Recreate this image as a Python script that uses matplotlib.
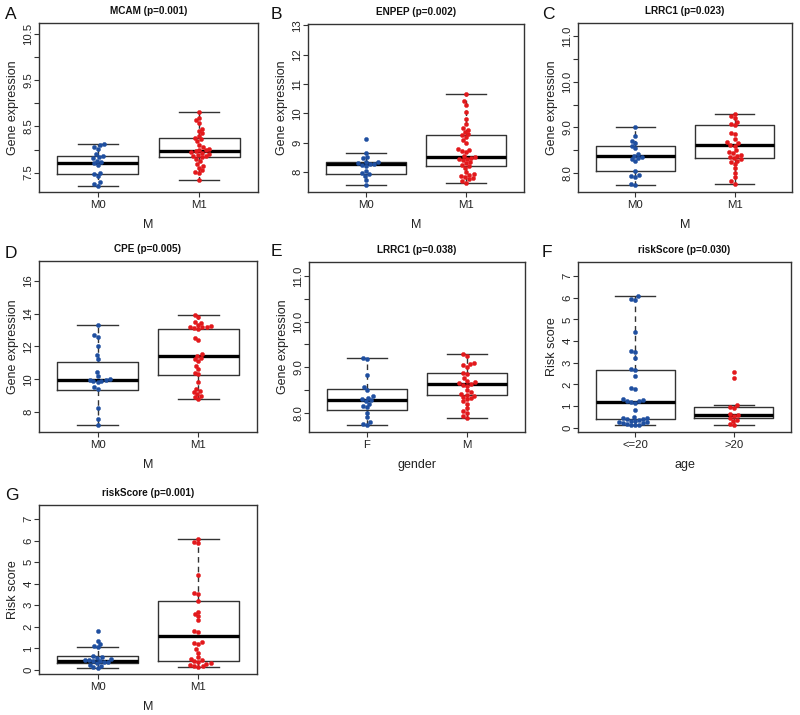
import numpy as np
import matplotlib
matplotlib.use('Agg')
import matplotlib.pyplot as plt

plt.rcParams['font.family'] = ['Liberation Sans', 'DejaVu Sans']

BLUE = '#1f4fa0'
RED = '#e3191c'

# ---------------- data ----------------
# Panel A: MCAM
a_title = 'MCAM (p=0.001)'
a_groups = ['M0', 'M1']
a_pts_g1 = [8.13, 8.10, 8.06, 8.02, 7.90, 7.87, 7.84, 7.81, 7.76, 7.73, 7.70, 7.67,
            7.50, 7.46, 7.42, 7.30, 7.26, 7.22]
a_pts_g2 = [8.82, 8.68, 8.63, 8.58, 8.45, 8.40, 8.35, 8.30, 8.25, 8.22, 8.18, 8.10,
            8.05, 8.02, 8.00, 7.98, 7.96, 7.95, 7.93, 7.91, 7.89, 7.87, 7.85, 7.83,
            7.80, 7.75, 7.68, 7.64, 7.60, 7.55, 7.52, 7.49, 7.35]
a_box_g1 = [7.22, 7.46, 7.71, 7.86, 8.13]   # whislo, q1, median, q3, whishi
a_box_g2 = [7.35, 7.83, 7.96, 8.25, 8.82]

# Panel B: ENPEP
b_title = 'ENPEP (p=0.002)'
b_groups = ['M0', 'M1']
b_pts_g1 = [9.12, 8.64, 8.50, 8.47, 8.36, 8.33, 8.31, 8.29, 8.27, 8.25, 8.20, 8.05,
            7.96, 7.93, 7.86, 7.72, 7.55]
b_pts_g2 = [10.67, 10.42, 10.30, 10.05, 9.82, 9.65, 9.50, 9.45, 9.38, 9.30, 9.25, 9.18,
            9.08, 8.98, 8.80, 8.76, 8.72, 8.68, 8.56, 8.52, 8.49, 8.46, 8.43, 8.40,
            8.35, 8.30, 8.24, 8.20, 8.14, 8.00, 7.93, 7.90, 7.87, 7.84, 7.80, 7.75,
            7.70, 7.64]
b_box_g1 = [7.55, 7.94, 8.28, 8.34, 8.64]
b_box_g2 = [7.64, 8.21, 8.53, 9.26, 10.67]

# Panel C: LRRC1 by M
c_title = 'LRRC1 (p=0.023)'
c_groups = ['M0', 'M1']
c_pts_g1 = [9.01, 8.82, 8.70, 8.65, 8.60, 8.55, 8.42, 8.38, 8.35, 8.33, 8.30, 8.25,
            8.05, 7.96, 7.93, 7.90, 7.76, 7.73]
c_pts_g2 = [9.29, 9.25, 9.20, 9.12, 9.08, 9.05, 8.88, 8.85, 8.75, 8.68, 8.65, 8.62,
            8.60, 8.50, 8.46, 8.43, 8.40, 8.38, 8.35, 8.32, 8.30, 8.27, 8.24, 8.20,
            8.10, 8.00, 7.90, 7.82, 7.76]
c_box_g1 = [7.73, 8.04, 8.37, 8.60, 9.01]
c_box_g2 = [7.76, 8.33, 8.62, 9.05, 9.29]

# Panel D: CPE
d_title = 'CPE (p=0.005)'
d_groups = ['M0', 'M1']
d_pts_g1 = [13.29, 12.70, 12.55, 12.00, 11.50, 11.25, 10.45, 10.20, 10.00, 9.96,
            9.93, 9.90, 9.86, 9.80, 9.55, 9.42, 8.25, 7.60, 7.20]
d_pts_g2 = [13.91, 13.80, 13.50, 13.40, 13.30, 13.25, 13.20, 13.18, 13.15, 13.10,
            13.05, 12.50, 12.40, 11.55, 11.40, 11.30, 11.20, 11.10, 10.80, 10.60,
            10.40, 10.30, 9.85, 9.40, 9.30, 9.20, 9.10, 9.00, 8.90, 8.81]
d_box_g1 = [7.20, 9.36, 9.93, 11.03, 13.29]
d_box_g2 = [8.81, 10.28, 11.40, 13.05, 13.91]

# Panel E: LRRC1 by gender
e_title = 'LRRC1 (p=0.038)'
e_groups = ['F', 'M']
e_pts_g1 = [9.21, 9.18, 8.82, 8.56, 8.50, 8.36, 8.33, 8.30, 8.28, 8.25, 8.20, 8.15,
            8.12, 8.00, 7.90, 7.80, 7.75, 7.73]
e_pts_g2 = [9.29, 9.25, 9.10, 9.07, 9.04, 9.00, 8.88, 8.85, 8.76, 8.70, 8.68, 8.66,
            8.64, 8.62, 8.60, 8.50, 8.45, 8.42, 8.40, 8.38, 8.35, 8.32, 8.30, 8.25,
            8.20, 8.10, 8.05, 8.00, 7.94, 7.89]
e_box_g1 = [7.73, 8.06, 8.29, 8.52, 9.21]
e_box_g2 = [7.89, 8.40, 8.64, 8.88, 9.29]

# Panel F: riskScore by age
f_title = 'riskScore (p=0.030)'
f_groups = ['<=20', '>20']
f_pts_g1 = [6.06, 5.95, 5.90, 4.40, 3.55, 3.50, 3.20, 2.70, 2.68, 2.40, 1.82, 1.78,
            1.32, 1.28, 1.25, 1.22, 1.18, 1.15, 0.80, 0.50, 0.46, 0.43, 0.40, 0.38,
            0.36, 0.33, 0.31, 0.28, 0.25, 0.22, 0.20, 0.17, 0.14, 0.12, 0.11]
f_pts_g2 = [2.55, 2.28, 1.03, 0.95, 0.90, 0.65, 0.60, 0.55, 0.45, 0.35, 0.30, 0.15,
            0.11]
f_box_g1 = [0.11, 0.40, 1.18, 2.68, 6.06]
f_box_g2 = [0.11, 0.43, 0.60, 0.97, 1.03]

# Panel G: riskScore by M
g_title = 'riskScore (p=0.001)'
g_groups = ['M0', 'M1']
g_pts_g1 = [1.82, 1.35, 1.18, 1.12, 1.04, 0.65, 0.60, 0.55, 0.50, 0.48, 0.45, 0.42,
            0.40, 0.38, 0.35, 0.30, 0.25, 0.20, 0.15, 0.11]
g_pts_g2 = [6.09, 5.95, 5.90, 4.40, 3.55, 3.50, 3.20, 2.70, 2.60, 2.50, 2.30, 1.80,
            1.75, 1.30, 1.25, 1.20, 0.95, 0.80, 0.60, 0.50, 0.45, 0.40, 0.35, 0.30,
            0.28, 0.25, 0.20, 0.18, 0.15]
g_box_g1 = [0.11, 0.34, 0.42, 0.65, 1.04]
g_box_g2 = [0.15, 0.43, 1.55, 3.20, 6.09]

# ---------------- layout ----------------
W, H = 800, 715
fig = plt.figure(figsize=(W / 100, H / 100), dpi=100)

panels = [
    dict(letter='A', title=a_title, groups=a_groups, p1=a_pts_g1, p2=a_pts_g2, b1=a_box_g1, b2=a_box_g2,
         xlabel='M', ylabel='Gene expression', box=(39, 23, 258, 192), ylim=(7.08, 10.74),
         ticks=[7.5, 8.0, 8.5, 9.0, 9.5, 10.0, 10.5], labels=['7.5', '', '8.5', '', '9.5', '', '10.5'],
         lpos=(5, 19)),
    dict(letter='B', title=b_title, groups=b_groups, p1=b_pts_g1, p2=b_pts_g2, b1=b_box_g1, b2=b_box_g2,
         xlabel='M', ylabel='Gene expression', box=(308, 24, 524, 192), ylim=(7.32, 13.05),
         ticks=[8, 9, 10, 11, 12, 13], labels=['8', '9', '10', '11', '12', '13'],
         lpos=(271, 19)),
    dict(letter='C', title=c_title, groups=c_groups, p1=c_pts_g1, p2=c_pts_g2, b1=c_box_g1, b2=c_box_g2,
         xlabel='M', ylabel='Gene expression', box=(578, 23, 792, 192), ylim=(7.58, 11.29),
         ticks=[8.0, 8.5, 9.0, 9.5, 10.0, 10.5, 11.0], labels=['8.0', '', '9.0', '', '10.0', '', '11.0'],
         lpos=(542, 19)),
    dict(letter='D', title=d_title, groups=d_groups, p1=d_pts_g1, p2=d_pts_g2, b1=d_box_g1, b2=d_box_g2,
         xlabel='M', ylabel='Gene expression', box=(39, 261, 257, 432), ylim=(6.78, 17.2),
         ticks=[8, 10, 12, 14, 16], labels=['8', '10', '12', '14', '16'],
         lpos=(5, 258)),
    dict(letter='E', title=e_title, groups=e_groups, p1=e_pts_g1, p2=e_pts_g2, b1=e_box_g1, b2=e_box_g2,
         xlabel='gender', ylabel='Gene expression', box=(309, 262, 525, 432), ylim=(7.58, 11.31),
         ticks=[8.0, 8.5, 9.0, 9.5, 10.0, 10.5, 11.0], labels=['8.0', '', '9.0', '', '10.0', '', '11.0'],
         lpos=(271, 256)),
    dict(letter='F', title=f_title, groups=f_groups, p1=f_pts_g1, p2=f_pts_g2, b1=f_box_g1, b2=f_box_g2,
         xlabel='age', ylabel='Risk score', box=(578, 262, 791, 432), ylim=(-0.2, 7.65),
         ticks=[0, 1, 2, 3, 4, 5, 6, 7], labels=['0', '1', '2', '3', '4', '5', '6', '7'],
         lpos=(542, 257)),
    dict(letter='G', title=g_title, groups=g_groups, p1=g_pts_g1, p2=g_pts_g2, b1=g_box_g1, b2=g_box_g2,
         xlabel='M', ylabel='Risk score', box=(39, 505, 257, 674), ylim=(-0.19, 7.65),
         ticks=[0, 1, 2, 3, 4, 5, 6, 7], labels=['0', '1', '2', '3', '4', '5', '6', '7'],
         lpos=(5, 500)),
]

XLIM = (0.5 - 0.08, 2.5 + 0.08)
DOT = 4.2  # px


def swarm(vals, ppu_x, ppu_y, d):
    y = np.asarray(vals, float)
    order = np.argsort(y, kind='stable')
    placed = []
    off = np.zeros(len(y))
    for i in order:
        yp = y[i] * ppu_y
        cands = [0.0]
        for xp, yq in placed:
            dy = yp - yq
            if abs(dy) < d:
                dx = np.sqrt(d * d - dy * dy)
                cands += [xp + dx, xp - dx]
        cands.sort(key=lambda c: (abs(c), c))
        chosen = cands[0]
        for c in cands:
            if all((c - xp) ** 2 + (yp - yq) ** 2 >= d * d - 1e-6 for xp, yq in placed):
                chosen = c
                break
        placed.append((chosen, yp))
        off[i] = chosen / ppu_x
    return off


EDGE = '#333333'
for p in panels:
    x0, y0, x1, y1 = p['box']
    ax = fig.add_axes([x0 / W, 1 - y1 / H, (x1 - x0) / W, (y1 - y0) / H])
    stats = []
    for b, lab in ((p['b1'], p['groups'][0]), (p['b2'], p['groups'][1])):
        stats.append(dict(whislo=b[0], q1=b[1], med=b[2], q3=b[3], whishi=b[4], label=lab))
    ax.bxp(stats, positions=[1, 2], widths=0.8, showfliers=False, capwidths=0.4,
           boxprops=dict(color=EDGE, lw=1.0),
           medianprops=dict(color='black', lw=2.4, solid_capstyle='butt'),
           whiskerprops=dict(color=EDGE, lw=1.0, linestyle=(0, (4, 3))),
           capprops=dict(color=EDGE, lw=1.0), manage_ticks=False, zorder=2)
    ax.set_xlim(*XLIM)
    ax.set_ylim(*p['ylim'])
    ppu_x = (x1 - x0) / (XLIM[1] - XLIM[0])
    ppu_y = (y1 - y0) / (p['ylim'][1] - p['ylim'][0])
    for k, (pts, col) in enumerate(((p['p1'], BLUE), (p['p2'], RED))):
        off = swarm(pts, ppu_x, ppu_y, DOT)
        ax.plot(np.full(len(pts), k + 1.0) + off, pts, 'o', ms=3.0, mfc=col, mec=col,
                mew=0.3, zorder=3, ls='none')
    ax.set_xticks([1, 2])
    ax.set_xticklabels(p['groups'])
    ax.set_yticks(p['ticks'])
    ax.set_yticklabels(p['labels'])
    ax.tick_params(axis='x', length=3.6, width=0.8, color=EDGE, labelsize=8.2,
                   labelcolor='#222222', pad=2.5)
    ax.tick_params(axis='y', length=3.6, width=0.8, color=EDGE, labelsize=8.2,
                   labelcolor='#222222', pad=0.4, labelrotation=90)
    for lbl in ax.get_yticklabels():
        lbl.set_va('center')
    for s in ax.spines.values():
        s.set_color(EDGE)
        s.set_linewidth(1.0)
    ax.set_xlabel(p['xlabel'], fontsize=9, color='#222222', labelpad=6)
    ax.set_ylabel(p['ylabel'], fontsize=9, color='#222222', labelpad=3)
    ax.set_title(p['title'], fontsize=7.2, fontweight='bold', color='#111111', pad=6.5)
    lx, ly = p['lpos']
    fig.text(lx / W, 1 - ly / H, p['letter'], fontsize=12.5, color='#111111', va='baseline', ha='left')

fig.savefig('out.png', dpi=100, facecolor='white')
